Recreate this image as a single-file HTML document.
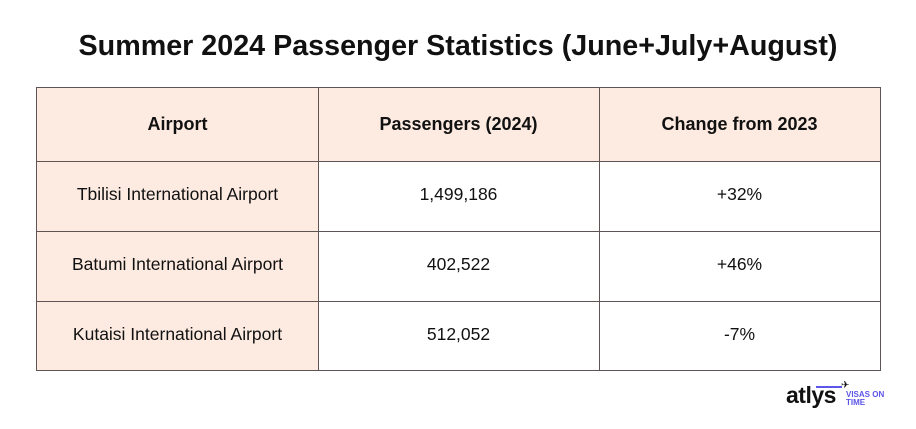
<!DOCTYPE html>
<html><head><meta charset="utf-8"><style>
body{margin:0;width:916px;height:429px;background:#fff;position:relative;overflow:hidden;font-family:"Liberation Sans",sans-serif;color:#111}
.t{position:absolute;left:0;width:916px;top:28px;text-align:center;font-weight:bold;font-size:28.7px;line-height:36px}
.c{position:absolute;display:flex;align-items:center;justify-content:center;font-size:17.5px;box-sizing:border-box;padding-bottom:3px}
.p{background:#fdebe2}
.h{font-weight:bold;font-size:18px;padding-bottom:0}
.l{position:absolute;background:#5e5454}
</style></head><body>
<div class="t">Summer 2024 Passenger Statistics (June+July+August)</div>
<div>
<div class="c p h" style="left:37px;top:87px;width:843px;height:74px"></div>
<div class="c h" style="left:37px;top:87px;width:281px;height:74px">Airport</div>
<div class="c h" style="left:318px;top:87px;width:281px;height:74px">Passengers (2024)</div>
<div class="c h" style="left:599px;top:87px;width:281px;height:74px">Change from 2023</div>
<div class="c p" style="left:37px;top:161px;width:281px;height:70px">Tbilisi International Airport</div>
<div class="c" style="left:318px;top:161px;width:281px;height:70px">1,499,186</div>
<div class="c" style="left:599px;top:161px;width:281px;height:70px">+32%</div>
<div class="c p" style="left:37px;top:231px;width:281px;height:70px">Batumi International Airport</div>
<div class="c" style="left:318px;top:231px;width:281px;height:70px">402,522</div>
<div class="c" style="left:599px;top:231px;width:281px;height:70px">+46%</div>
<div class="c p" style="left:37px;top:301px;width:281px;height:69px">Kutaisi International Airport</div>
<div class="c" style="left:318px;top:301px;width:281px;height:69px">512,052</div>
<div class="c" style="left:599px;top:301px;width:281px;height:69px">-7%</div>
<div class="l" style="left:36px;top:87px;width:845px;height:1px"></div>
<div class="l" style="left:36px;top:161px;width:845px;height:1px"></div>
<div class="l" style="left:36px;top:231px;width:845px;height:1px"></div>
<div class="l" style="left:36px;top:301px;width:845px;height:1px"></div>
<div class="l" style="left:36px;top:370px;width:845px;height:1px"></div>
<div class="l" style="left:36px;top:87px;width:1px;height:284px"></div>
<div class="l" style="left:318px;top:87px;width:1px;height:284px"></div>
<div class="l" style="left:599px;top:87px;width:1px;height:284px"></div>
<div class="l" style="left:880px;top:87px;width:1px;height:284px"></div>
</div>
<div style="position:absolute;left:786px;top:382px;height:30px">
<span style="position:absolute;left:0;top:0;font-weight:bold;font-size:23px;color:#111;letter-spacing:-0.5px">atlys</span>
<div style="position:absolute;left:30px;top:4px;width:26px;height:2px;background:#5b55e8"></div>
<span style="position:absolute;left:55px;top:-2px;font-size:10px;color:#111">✈</span>
<span style="position:absolute;left:60px;top:9px;font-size:8px;font-weight:bold;color:#5b55e8;line-height:8px;white-space:nowrap">VISAS ON<br>TIME</span>
</div>
</body></html>
